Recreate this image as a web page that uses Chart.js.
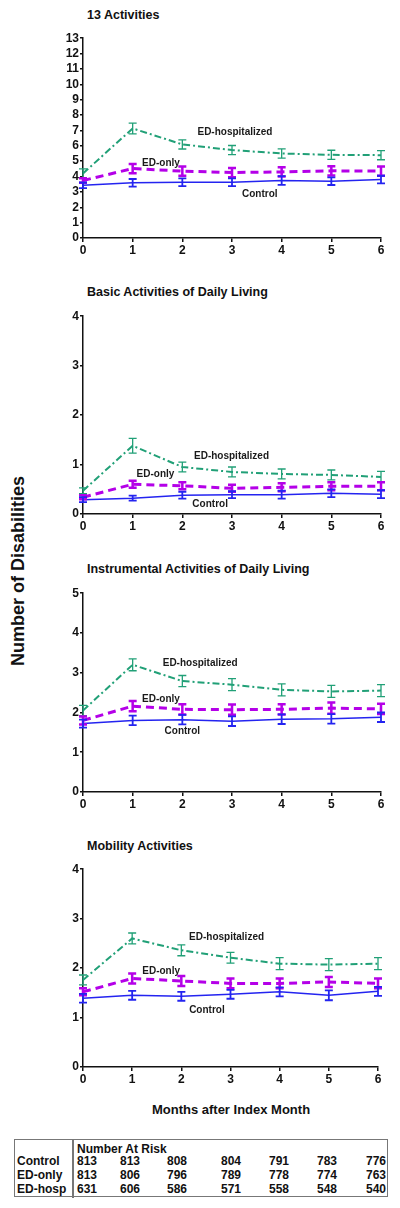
<!DOCTYPE html>
<html>
<head>
<meta charset="utf-8">
<script src="https://cdn.jsdelivr.net/npm/chart.js@4/dist/chart.umd.min.js"></script>
<style>
  body { margin: 0; background: #fff; font-family: "Liberation Sans", Arial, sans-serif; }
  #page { position: relative; width: 400px; height: 1208px; overflow: hidden; }
  canvas { position: absolute; }
  .ttl { position: absolute; font-weight: bold; font-size: 12.5px; color: #111; white-space: nowrap; line-height: 14px; }
  .txt { position: absolute; font-weight: bold; font-size: 12px; color: #111; white-space: nowrap; line-height: 14px; }
</style>
</head>
<body>
<div id="page"></div>
<script>
const months = [0, 1, 2, 3, 4, 5, 6];

const panelTitles = ['13 Activities', 'Basic Activities of Daily Living',
  'Instrumental Activities of Daily Living', 'Mobility Activities'];
const panelMax = [13, 4, 5, 4];

// 13 activities
const allControl = [3.43, 3.59, 3.63, 3.63, 3.74, 3.70, 3.80];
const allControlErr = [0.18, 0.25, 0.25, 0.25, 0.28, 0.25, 0.25];
const allEdOnly = [3.74, 4.52, 4.35, 4.26, 4.30, 4.37, 4.35];
const allEdOnlyErr = [0.15, 0.3, 0.3, 0.3, 0.3, 0.3, 0.3];
const allEdHosp = [4.2, 7.13, 6.09, 5.72, 5.50, 5.41, 5.39];
const allEdHospErr = [0.3, 0.35, 0.3, 0.3, 0.3, 0.3, 0.3];

// basic ADL
const badlControl = [0.29, 0.32, 0.38, 0.39, 0.39, 0.42, 0.40];
const badlControlErr = [0.05, 0.05, 0.07, 0.07, 0.08, 0.08, 0.08];
const badlEdOnly = [0.34, 0.60, 0.57, 0.52, 0.54, 0.56, 0.56];
const badlEdOnlyErr = [0.04, 0.07, 0.07, 0.07, 0.08, 0.08, 0.08];
const badlEdHosp = [0.47, 1.38, 0.95, 0.85, 0.81, 0.79, 0.75];
const badlEdHospErr = [0.06, 0.15, 0.1, 0.1, 0.1, 0.1, 0.11];

// instrumental ADL
const iadlControl = [1.72, 1.80, 1.82, 1.78, 1.83, 1.84, 1.88];
const iadlControlErr = [0.1, 0.12, 0.12, 0.12, 0.12, 0.12, 0.12];
const iadlEdOnly = [1.80, 2.16, 2.08, 2.07, 2.08, 2.11, 2.09];
const iadlEdOnlyErr = [0.1, 0.13, 0.13, 0.13, 0.13, 0.14, 0.13];
const iadlEdHosp = [2.05, 3.2, 2.79, 2.70, 2.57, 2.53, 2.55];
const iadlEdHospErr = [0.13, 0.15, 0.14, 0.15, 0.15, 0.15, 0.15];

// mobility
const mobControl = [1.39, 1.45, 1.43, 1.47, 1.52, 1.45, 1.53];
const mobControlErr = [0.09, 0.09, 0.09, 0.09, 0.09, 0.1, 0.09];
const mobEdOnly = [1.52, 1.79, 1.74, 1.69, 1.69, 1.72, 1.69];
const mobEdOnlyErr = [0.07, 0.1, 0.1, 0.1, 0.1, 0.1, 0.1];
const mobEdHosp = [1.76, 2.60, 2.36, 2.21, 2.09, 2.07, 2.09];
const mobEdHospErr = [0.1, 0.11, 0.11, 0.11, 0.12, 0.12, 0.12];

// number at risk
const riskGroups = ['Control', 'ED-only', 'ED-hosp'];
const riskControl = [813, 813, 808, 804, 791, 783, 776];
const riskEdOnly = [813, 806, 796, 789, 778, 774, 763];
const riskEdHosp = [631, 606, 586, 571, 558, 548, 540];

const panelData = [
  [allControl, allControlErr, allEdOnly, allEdOnlyErr, allEdHosp, allEdHospErr],
  [badlControl, badlControlErr, badlEdOnly, badlEdOnlyErr, badlEdHosp, badlEdHospErr],
  [iadlControl, iadlControlErr, iadlEdOnly, iadlEdOnlyErr, iadlEdHosp, iadlEdHospErr],
  [mobControl, mobControlErr, mobEdOnly, mobEdOnlyErr, mobEdHosp, mobEdHospErr]
];

// curve labels, placed in data units of each panel
const curveLabels = [
  [['ED-hospitalized', 3.06, 6.9], ['ED-only', 1.57, 4.88], ['Control', 3.56, 2.86]],
  [['ED-hospitalized', 2.99, 1.17], ['ED-only', 1.46, 0.80], ['Control', 2.56, 0.20]],
  [['ED-hospitalized', 2.36, 3.25], ['ED-only', 1.57, 2.34], ['Control', 2.0, 1.52]],
  [['ED-hospitalized', 2.92, 2.62], ['ED-only', 1.59, 1.94], ['Control', 2.52, 1.14]]
];

// layout: plot top / bottom pixels, right padding
const panelTop = [38, 316, 593, 869];
const panelBottom = [238, 514, 792, 1067];
const panelPadRight = [19, 19, 19, 22];
const titleTop = [8, 285, 562, 839];

const FONT = '"Liberation Sans", Arial, sans-serif';
const BLUE = '#2424f0', PURPLE = '#b400e8', GREEN = '#21a077';

const page = document.getElementById('page');

const errorBars = {
  id: 'errorBars',
  afterDatasetsDraw(chart) {
    const ctx = chart.ctx, ys = chart.scales.y;
    chart.data.datasets.forEach((ds, i) => {
      const meta = chart.getDatasetMeta(i);
      ctx.save();
      ctx.strokeStyle = ds.borderColor;
      ctx.lineWidth = ds.errWidth;
      ctx.setLineDash([]);
      meta.data.forEach((pt, j) => {
        const v = ds.data[j].y, e = ds.err[j];
        const y1 = ys.getPixelForValue(v - e), y2 = ys.getPixelForValue(v + e);
        const x = pt.x;
        ctx.beginPath();
        ctx.moveTo(x, y1); ctx.lineTo(x, y2);
        ctx.moveTo(x - 4, y1); ctx.lineTo(x + 4, y1);
        ctx.moveTo(x - 4, y2); ctx.lineTo(x + 4, y2);
        ctx.stroke();
      });
      ctx.restore();
    });
  }
};

const curveText = {
  id: 'curveText',
  afterDraw(chart, args, opts) {
    const ctx = chart.ctx;
    ctx.save();
    ctx.font = 'bold 10px ' + FONT;
    ctx.fillStyle = '#1a1a1a';
    ctx.textAlign = 'center';
    ctx.textBaseline = 'middle';
    opts.items.forEach(l => {
      ctx.fillText(l[0], chart.scales.x.getPixelForValue(l[1]), chart.scales.y.getPixelForValue(l[2]));
    });
    ctx.restore();
  }
};

function makePanel(i) {
  const d = panelData[i];
  const canvas = document.createElement('canvas');
  const top = panelTop[i] - 8;
  const h = panelBottom[i] - panelTop[i] + 8 + 22;
  canvas.width = 345; canvas.height = h;
  canvas.style.left = '55px'; canvas.style.top = top + 'px';
  canvas.style.width = '345px'; canvas.style.height = h + 'px';
  page.appendChild(canvas);

  const title = document.createElement('div');
  title.className = 'ttl';
  title.style.left = '87px'; title.style.top = titleTop[i] + 'px';
  title.textContent = panelTitles[i];
  page.appendChild(title);

  const pts = arr => arr.map((v, k) => ({ x: months[k], y: v }));

  new Chart(canvas.getContext('2d'), {
    type: 'line',
    data: {
      datasets: [
        { label: 'ED-hospitalized', data: pts(d[4]), err: d[5], borderColor: GREEN,
          borderWidth: 2, borderDash: [7, 3, 2, 3], errWidth: 1.3, pointRadius: 0, tension: 0 },
        { label: 'ED-only', data: pts(d[2]), err: d[3], borderColor: PURPLE,
          borderWidth: 3, borderDash: [8, 5], errWidth: 2.5, pointRadius: 0, tension: 0 },
        { label: 'Control', data: pts(d[0]), err: d[1], borderColor: BLUE,
          borderWidth: 1.5, errWidth: 1.8, pointRadius: 0, tension: 0 }
      ]
    },
    options: {
      responsive: false,
      animation: false,
      devicePixelRatio: 1,
      layout: { padding: { top: 8, right: panelPadRight[i], left: 0, bottom: 0 } },
      plugins: {
        legend: { display: false },
        tooltip: { enabled: false },
        curveText: { items: curveLabels[i] }
      },
      scales: {
        x: {
          type: 'linear', min: 0, max: 6,
          afterFit: s => { s.height = 22; },
          grid: { drawOnChartArea: false, color: '#111', tickLength: 4, lineWidth: 1.5 },
          border: { color: '#111', width: 1.5 },
          ticks: { stepSize: 1, autoSkip: false, padding: 1, color: '#111', font: { family: FONT, size: 12, weight: 'bold' } }
        },
        y: {
          min: 0, max: panelMax[i],
          afterFit: s => { s.width = 28; },
          grid: { drawOnChartArea: false, color: '#111', tickLength: 3, lineWidth: 1.5 },
          border: { color: '#111', width: 1.5 },
          ticks: { stepSize: 1, autoSkip: false, padding: 1, color: '#111', font: { family: FONT, size: 12, weight: 'bold' } }
        }
      }
    },
    plugins: [errorBars, curveText]
  });
}

for (let i = 0; i < 4; i++) makePanel(i);

// axis titles
const yTitle = document.createElement('div');
yTitle.className = 'ttl';
yTitle.style.fontSize = '18px';
yTitle.style.left = '18px'; yTitle.style.top = '571px';
yTitle.style.transform = 'translate(-50%, -50%) rotate(-90deg)';
yTitle.textContent = 'Number of Disabilities';
page.appendChild(yTitle);

const xTitle = document.createElement('div');
xTitle.className = 'ttl';
xTitle.style.fontSize = '13px';
xTitle.style.left = '231px'; xTitle.style.top = '1110px';
xTitle.style.transform = 'translate(-50%, -50%)';
xTitle.textContent = 'Months after Index Month';
page.appendChild(xTitle);

// number at risk table
const box = document.createElement('div');
box.style.cssText = 'position:absolute;left:14px;top:1139px;width:372px;height:56px;border:1.5px solid #777;';
page.appendChild(box);
const divider = document.createElement('div');
divider.style.cssText = 'position:absolute;left:72px;top:1139px;width:0;height:59px;border-left:2px solid #777;';
page.appendChild(divider);

function putText(str, left, cy) {
  const el = document.createElement('div');
  el.className = 'txt';
  el.style.left = left + 'px';
  el.style.top = (cy - 7) + 'px';
  el.textContent = str;
  page.appendChild(el);
}
putText('Number At Risk', 77, 1149);
const colLeft = [77, 120, 167, 221, 269, 317, 366];
const rowY = [1161, 1175, 1189];
[riskControl, riskEdOnly, riskEdHosp].forEach((row, r) => {
  putText(riskGroups[r], 17, rowY[r]);
  row.forEach((n, c) => putText(String(n), colLeft[c], rowY[r]));
});
</script>
</body>
</html>
